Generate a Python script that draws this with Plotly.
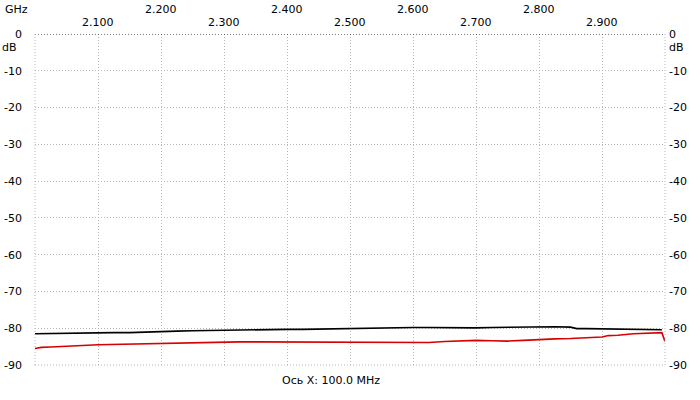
import plotly.graph_objects as go

# ---- data ----
freq_black = [2.000, 2.025, 2.050, 2.075, 2.100, 2.125, 2.150, 2.175, 2.200, 2.225,
              2.250, 2.275, 2.300, 2.325, 2.350, 2.375, 2.400, 2.425, 2.450, 2.475,
              2.500, 2.525, 2.550, 2.575, 2.600, 2.625, 2.650, 2.675, 2.700, 2.725,
              2.750, 2.775, 2.800, 2.825, 2.850, 2.860, 2.875, 2.900, 2.925, 2.950,
              2.975, 2.995]
db_black = [-81.5, -81.4, -81.5, -81.4, -81.3, -81.2, -81.2, -81.0, -80.9, -80.8,
            -80.7, -80.6, -80.6, -80.5, -80.5, -80.4, -80.3, -80.3, -80.2, -80.1,
            -80.0, -79.9, -79.8, -79.8, -79.8, -79.8, -79.9, -79.9, -79.9, -79.8,
            -79.7, -79.6, -79.5, -79.6, -79.7, -80.1, -80.1, -80.2, -80.3, -80.4,
            -80.4, -80.4]

freq_red = [2.000, 2.010, 2.025, 2.050, 2.075, 2.100, 2.125, 2.150, 2.175, 2.200,
            2.225, 2.250, 2.275, 2.300, 2.325, 2.350, 2.375, 2.400, 2.425, 2.450,
            2.475, 2.500, 2.525, 2.550, 2.575, 2.600, 2.625, 2.650, 2.675, 2.700,
            2.725, 2.750, 2.775, 2.800, 2.825, 2.850, 2.875, 2.900, 2.910, 2.925,
            2.950, 2.975, 2.995, 3.000]
db_red = [-85.5, -85.2, -85.1, -84.8, -84.7, -84.5, -84.4, -84.2, -84.2, -84.0,
          -84.0, -84.0, -83.9, -83.8, -83.7, -83.7, -83.7, -83.8, -83.8, -83.9,
          -83.9, -83.9, -83.9, -83.9, -83.9, -83.9, -83.9, -83.6, -83.4, -83.3,
          -83.4, -83.5, -83.3, -83.0, -82.9, -82.8, -82.6, -82.4, -82.0, -81.9,
          -81.5, -81.3, -81.2, -83.6]

x_ticks = [2.1, 2.2, 2.3, 2.4, 2.5, 2.6, 2.7, 2.8, 2.9]
x_tick_labels = ["2.100", "2.200", "2.300", "2.400", "2.500", "2.600", "2.700", "2.800", "2.900"]
y_ticks = [0, -10, -20, -30, -40, -50, -60, -70, -80, -90]
y_tick_labels = ["0", "-10", "-20", "-30", "-40", "-50", "-60", "-70", "-80", "-90"]

FONT = "DejaVu Sans"
GRID = "#b8b8b8"
DOT = "1px,2px"

fig = go.Figure()
fig.add_trace(go.Scatter(x=freq_black, y=db_black, mode="lines",
                         line=dict(color="#000000", width=1.6), showlegend=False))
fig.add_trace(go.Scatter(x=freq_red, y=db_red, mode="lines",
                         line=dict(color="#d80000", width=1.6), showlegend=False))
# invisible trace for right axis
fig.add_trace(go.Scatter(x=[2.0], y=[-90], yaxis="y2", mode="markers",
                         marker=dict(opacity=0), showlegend=False, hoverinfo="skip"))

fig.update_layout(
    width=700, height=400,
    margin=dict(l=35, r=35, t=34, b=35, autoexpand=False),
    paper_bgcolor="white", plot_bgcolor="white",
    font=dict(family=FONT, size=11, color="#000000"),
    xaxis=dict(range=[2.0, 3.0], tickvals=x_ticks, showticklabels=False,
               showgrid=True, gridcolor=GRID, griddash=DOT, gridwidth=1,
               zeroline=False, showline=False, ticks="", automargin=False),
    yaxis=dict(range=[-90, 0], tickvals=y_ticks, ticktext=y_tick_labels,
               showgrid=True, gridcolor=GRID, griddash=DOT, gridwidth=1,
               zeroline=False, showline=False, ticks="", ticklabelstandoff=12,
               automargin=False, tickfont=dict(family=FONT, size=11)),
    yaxis2=dict(range=[-90, 0], tickvals=y_ticks, ticktext=y_tick_labels,
                overlaying="y", side="right", showgrid=False, zeroline=False,
                showline=False, ticks="", ticklabelstandoff=3, automargin=False,
                tickfont=dict(family=FONT, size=11)),
)

# borders (dotted)
fig.add_shape(type="line", xref="paper", yref="y", x0=0, x1=1, y0=0, y1=0,
              line=dict(color="#000000", width=1, dash=DOT))
for xv in [0, 1]:
    fig.add_shape(type="line", xref="paper", yref="paper", x0=xv, x1=xv, y0=0, y1=1,
                  line=dict(color=GRID, width=1, dash=DOT))
fig.add_shape(type="line", xref="paper", yref="paper", x0=0, x1=1, y0=0, y1=0,
              line=dict(color=GRID, width=1, dash=DOT))

plot_h = 400 - 34 - 35
plot_w = 700 - 35 - 35
anns = []
for i, (xv, lab) in enumerate(zip(x_ticks, x_tick_labels)):
    row_y = 22 if i % 2 == 0 else 9
    anns.append(dict(x=xv, xref="x", y=(365 - row_y) / plot_h, yref="paper",
                     text=lab, showarrow=False, xanchor="center", yanchor="middle",
                     font=dict(family=FONT, size=11)))
anns.append(dict(x=(3 - 35) / plot_w, xref="paper", y=(365 - 9) / plot_h, yref="paper",
                 text="GHz", showarrow=False, xanchor="left", yanchor="middle",
                 font=dict(family=FONT, size=11)))
anns.append(dict(x=(0 - 35) / plot_w, xref="paper", y=(365 - 48) / plot_h, yref="paper",
                 text="dB", showarrow=False, xanchor="left", yanchor="middle",
                 font=dict(family=FONT, size=11)))
anns.append(dict(x=(667 - 35) / plot_w, xref="paper", y=(365 - 48) / plot_h, yref="paper",
                 text="dB", showarrow=False, xanchor="left", yanchor="middle",
                 font=dict(family=FONT, size=11)))
anns.append(dict(x=(331 - 35) / plot_w, xref="paper", y=(365 - 380) / plot_h, yref="paper",
                 text="Ось X: 100.0 MHz", showarrow=False, xanchor="center", yanchor="middle",
                 font=dict(family=FONT, size=11)))
fig.layout.annotations = anns

fig.write_html("out.html", config={"displayModeBar": False},
               post_script="document.body.style.margin='0';document.body.style.overflow='hidden';")
